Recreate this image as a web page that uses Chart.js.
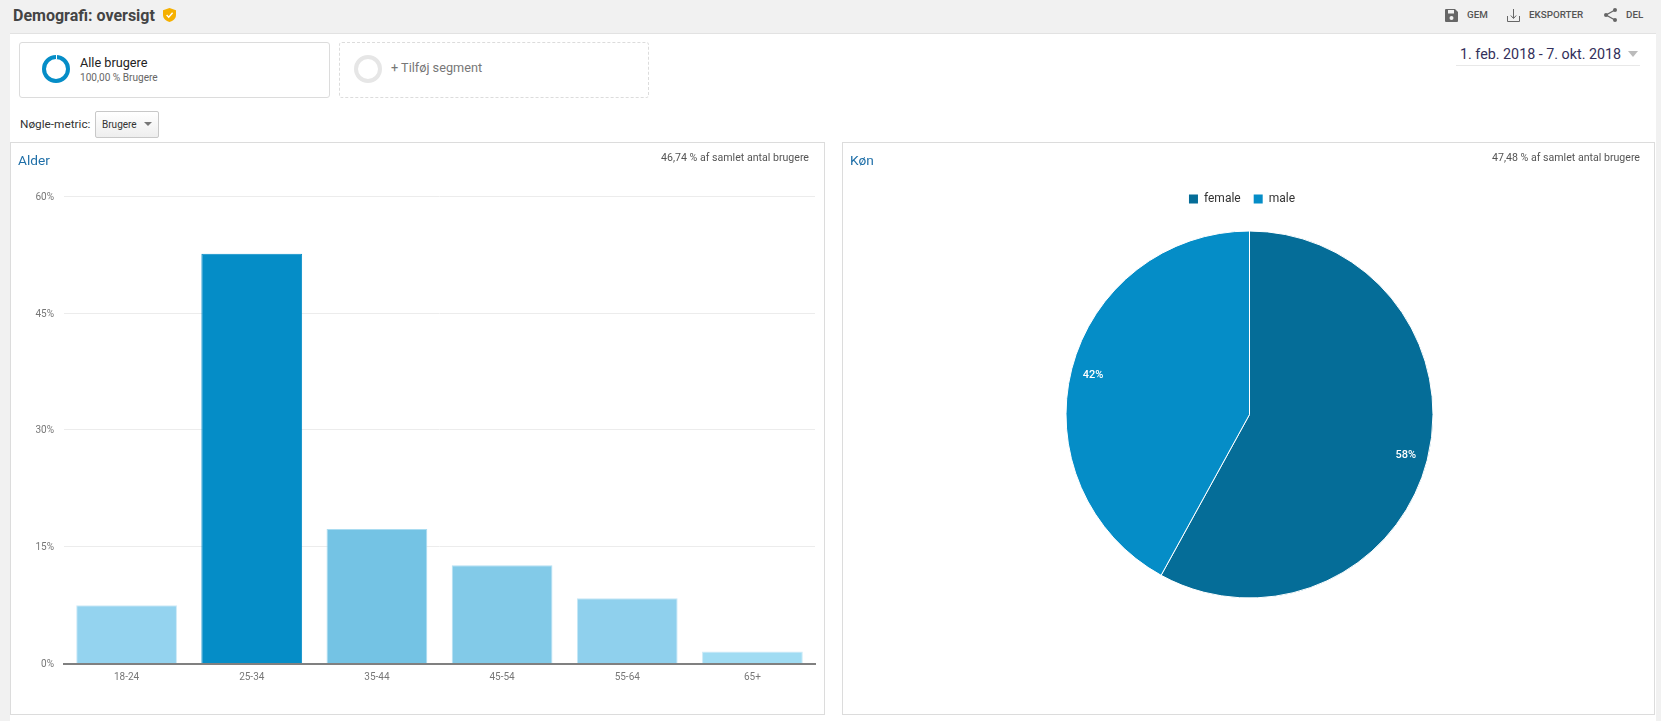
<!DOCTYPE html>
<html lang="da">
<head>
<meta charset="utf-8">
<title>Demografi: oversigt</title>
<script src="https://cdn.jsdelivr.net/npm/chart.js@4/dist/chart.umd.min.js"></script>
<style>
  html, body { margin: 0; padding: 0; width: 1661px; height: 721px; overflow: hidden; background: #f1f1f1; font-family: Roboto, sans-serif; color: #333; }
  .abs { position: absolute; white-space: nowrap; }
  #indhold { left: 10px; top: 33px; width: 1646px; height: 688px; background: #fff; border-top: 1px solid #e2e2e2; box-sizing: border-box; }
  .boks { top: 42px; height: 56px; box-sizing: border-box; border-radius: 3px; }
  .ring { top: 55px; width: 28px; height: 28px; border-radius: 50%; box-sizing: border-box; border: 4px solid #058dc7; }
  .panel { top: 142px; height: 573px; background: #fff; border: 1px solid #dcdcdc; box-sizing: border-box; }
  .panel canvas { position: absolute; left: 0; top: 0; }
  .paneltitel { top: 152px; font-size: 13.7px; color: #1f6fa8; line-height: 17px; }
  .andel { top: 151px; font-size: 10.6px; color: #555; line-height: 14px; }
  .knaptekst { top: 9px; font-size: 9.8px; font-weight: 500; color: #555; line-height: 12px; }
</style>
</head>
<body>
  <div class="abs" id="indhold"></div>

  <div class="abs" style="left:13px;top:6px;font-size:16px;font-weight:700;color:#444;line-height:19px">Demografi: oversigt</div>
  <svg class="abs" style="left:163px;top:8px" width="13" height="14" viewBox="0 0 13 14">
    <path d="M6.5 0 L13 2.2 V7 C13 10.4 10 13 6.5 14 C3 13 0 10.4 0 7 V2.2 Z" fill="#f5b000"/>
    <path d="M3.6 7 L5.7 9.2 L9.6 4.8" fill="none" stroke="#fff" stroke-width="1.4"/>
  </svg>

  <svg class="abs" style="left:1445px;top:9px" width="13" height="13" viewBox="0 0 13 13">
    <path d="M0 1 Q0 0 1 0 H10 L13 3 V12 Q13 13 12 13 H1 Q0 13 0 12 Z" fill="#666"/>
    <rect x="3" y="1" width="6" height="3.5" fill="#f1f1f1"/>
    <circle cx="6.5" cy="9" r="2" fill="#f1f1f1"/>
  </svg>
  <div class="abs knaptekst" style="left:1467px">GEM</div>
  <svg class="abs" style="left:1507px;top:9px" width="13" height="13" viewBox="0 0 13 13" fill="none" stroke="#666">
    <path d="M0.5 7 V12.5 H12.5 V7"/>
    <path d="M6.5 0 V9 M3.8 6.5 L6.5 9.5 L9.2 6.5"/>
  </svg>
  <div class="abs knaptekst" style="left:1529px">EKSPORTER</div>
  <svg class="abs" style="left:1604px;top:8px" width="13" height="14" viewBox="0 0 13 14">
    <path d="M11 2 L2 7 L11 12" fill="none" stroke="#666" stroke-width="1.3"/>
    <circle cx="11" cy="2" r="2" fill="#666"/><circle cx="2" cy="7" r="2" fill="#666"/><circle cx="11" cy="12" r="2" fill="#666"/>
  </svg>
  <div class="abs knaptekst" style="left:1626px">DEL</div>

  <div class="abs boks" style="left:19px;width:311px;border:1px solid #dcdcdc"></div>
  <div class="abs ring" style="left:42px"></div>
  <div class="abs" style="left:55.5px;top:55px;width:1px;height:4px;background:#fff"></div>
  <div class="abs" style="left:80px;top:55px;font-size:12.7px;color:#222;line-height:16px">Alle brugere</div>
  <div class="abs" style="left:80px;top:72px;font-size:10.1px;color:#666;line-height:12px">100,00 % Brugere</div>
  <div class="abs boks" style="left:339px;width:310px;border:1px dashed #dcdcdc"></div>
  <div class="abs ring" style="left:354px;border-color:#e6e6e6"></div>
  <div class="abs" style="left:391px;top:60px;font-size:12.7px;color:#777;line-height:16px">+ Tilføj segment</div>

  <div class="abs" style="left:1460px;top:45px;font-size:14.3px;color:#33305a;line-height:18px">1. feb. 2018 - 7. okt. 2018</div>
  <div class="abs" style="left:1456px;top:65px;width:184px;height:1px;background:#e8e8e8"></div>
  <div class="abs" style="left:1628px;top:51px;width:0;height:0;border-left:5px solid transparent;border-right:5px solid transparent;border-top:6px solid #bbb"></div>

  <div class="abs" style="left:20px;top:117px;font-size:11.8px;color:#333;line-height:15px">Nøgle-metric:</div>
  <div class="abs" style="left:95px;top:111px;width:64px;height:27px;box-sizing:border-box;border:1px solid #c8c8c8;border-radius:2px;background:linear-gradient(#fff,#eee)"></div>
  <div class="abs" style="left:102px;top:119px;font-size:10px;color:#333;line-height:12px">Brugere</div>
  <div class="abs" style="left:144px;top:122px;width:0;height:0;border-left:4px solid transparent;border-right:4px solid transparent;border-top:4px solid #777"></div>

  <div class="abs panel" style="left:10px;width:815px"><canvas id="alder"></canvas></div>
  <div class="abs paneltitel" style="left:18px">Alder</div>
  <div class="abs andel" style="right:852px">46,74 % af samlet antal brugere</div>

  <div class="abs panel" style="left:842px;width:813px"><canvas id="koen"></canvas></div>
  <div class="abs paneltitel" style="left:850px">Køn</div>
  <div class="abs andel" style="right:21px">47,48 % af samlet antal brugere</div>

<script>
const aldersgrupper = ['18-24', '25-34', '35-44', '45-54', '55-64', '65+']
const alderAndel = [7.5, 52.6, 17.3, 12.65, 8.4, 1.55]
const alderTicks = [0, 15, 30, 45, 60]
const koen = ['female', 'male']
const koenAndel = [58, 42]

const alderFarver = ['#94d3ef', '#058dc7', '#74c3e4', '#82cae8', '#8fd0ed', '#a0dcf3']
const alderKanter = ['#cdeaf7', '#058dc7', '#a9dcf1', '#b5e0f3', '#c4e7f6', '#cdeaf7']
const koenFarver = ['#056d98', '#058dc7']

Chart.defaults.font.family = 'Roboto, sans-serif'
Chart.defaults.animation = false

function tegnAlder() {
  const panel = document.getElementById('alder')
  panel.width = 813
  panel.height = 571
  new Chart(panel, {
    type: 'bar',
    data: {
      labels: aldersgrupper,
      datasets: [{
        data: alderAndel,
        backgroundColor: alderFarver,
        borderColor: alderKanter,
        borderWidth: 1,
        borderSkipped: 'bottom',
        barPercentage: 1,
        categoryPercentage: 0.805
      }]
    },
    options: {
      responsive: false,
      layout: { padding: { top: 53.2, right: 9, left: 0, bottom: 0 } },
      plugins: { legend: { display: false }, tooltip: { enabled: false } },
      scales: {
        x: {
          grid: { display: false },
          border: { display: true, color: '#808080', width: 2, z: 1 },
          ticks: { color: '#777', font: { size: 10 }, padding: 0, maxRotation: 0 },
          afterFit: scale => { scale.height = 50.3 }
        },
        y: {
          min: 0,
          max: 60,
          afterBuildTicks: scale => { scale.ticks = alderTicks.map(v => ({ value: v })) },
          grid: { color: '#ececec', lineWidth: 1, drawTicks: false },
          border: { display: false },
          ticks: { color: '#777', font: { size: 10 }, padding: 10, labelOffset: 1, callback: v => v + '%' },
          afterFit: scale => { scale.width = 53 }
        }
      }
    }
  })
}

// Etiketter inde i lagkagen, placeret ud fra selve buen
const lagkageEtiketter = {
  id: 'lagkageEtiketter',
  afterDatasetsDraw(chart) {
    const c = chart.ctx
    c.save()
    c.fillStyle = '#fff'
    c.font = '500 11px Roboto, sans-serif'
    c.textAlign = 'center'
    c.textBaseline = 'middle'
    chart.getDatasetMeta(0).data.forEach((bue, i) => {
      const midt = (bue.startAngle + bue.endAngle) / 2
      const r = bue.outerRadius * 0.88
      c.fillText(koenAndel[i] + '%', bue.x + Math.cos(midt) * r, bue.y + Math.sin(midt) * r + 1)
    })
    c.restore()
  }
}

// Forklaringen sidder lidt til venstre for lagkagens midte
const flytForklaring = {
  id: 'flytForklaring',
  afterLayout(chart) {
    chart.legend.left -= 7.5
    chart.legend.right -= 7.5
  }
}

function tegnKoen() {
  const panel = document.getElementById('koen')
  panel.width = 811
  panel.height = 571
  new Chart(panel, {
    type: 'pie',
    data: {
      labels: koen,
      datasets: [{
        data: koenAndel,
        backgroundColor: koenFarver,
        borderColor: '#fff',
        borderWidth: 1,
        radius: 183.5
      }]
    },
    options: {
      responsive: false,
      layout: { padding: { top: 37, bottom: 100, left: 2 } },
      plugins: {
        tooltip: { enabled: false },
        legend: {
          position: 'top',
          labels: {
            boxWidth: 9,
            boxHeight: 9,
            padding: 13,
            color: '#333',
            font: { size: 12 },
            // Uden den hvide kant fra lagkagen
            generateLabels: chart => Chart.controllers.pie.overrides.plugins.legend.labels.generateLabels(chart)
              .map(punkt => ({ ...punkt, lineWidth: 0 }))
          }
        }
      }
    },
    plugins: [lagkageEtiketter, flytForklaring]
  })
}

window.onload = () => {
  tegnAlder()
  tegnKoen()
}
</script>
</body>
</html>
